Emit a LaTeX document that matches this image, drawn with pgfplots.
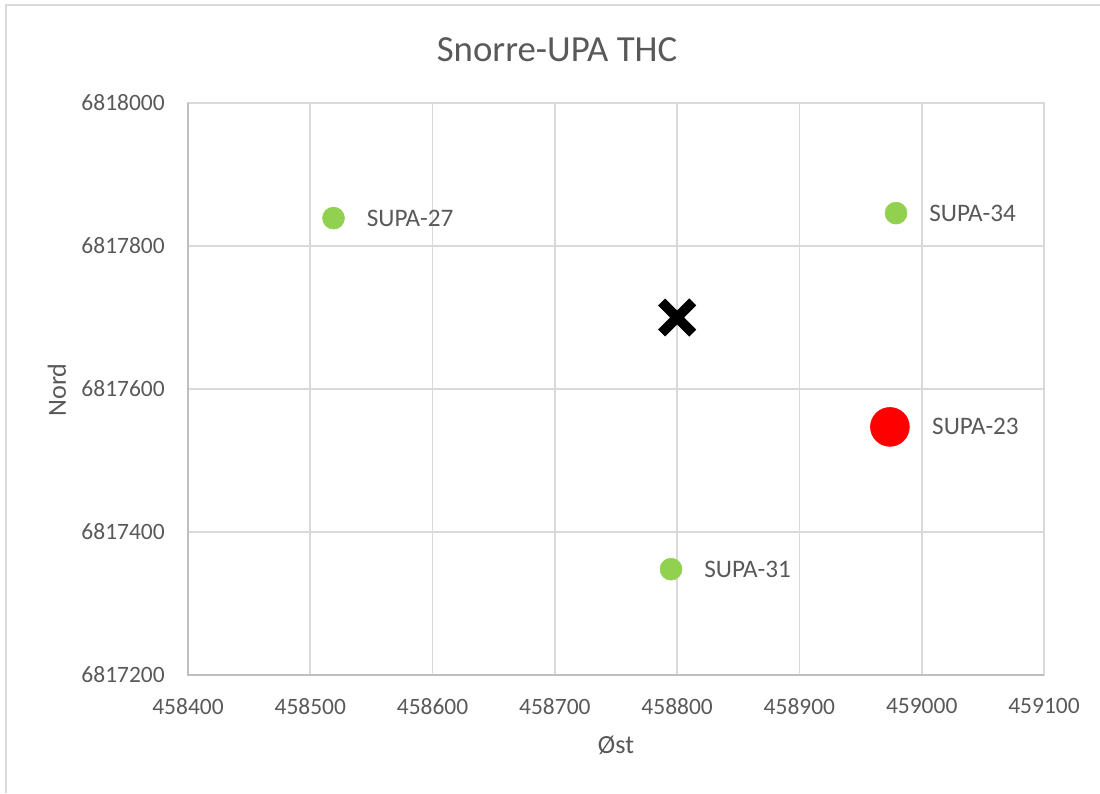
\documentclass[border=0pt]{standalone}
\usepackage{pgfplots}
\pgfplotsset{compat=1.18}
\usepackage{fontspec}
\setmainfont{Carlito}
\definecolor{gridc}{HTML}{D9D9D9}
\definecolor{axc}{HTML}{BFBFBF}
\definecolor{txt}{HTML}{595959}
\definecolor{grn}{HTML}{92D050}
\begin{document}
\begin{tikzpicture}
\path[use as bounding box] (0,0) rectangle (825pt,594.75pt);
\draw[gridc, line width=1.5pt] (4.5pt,0) -- (4.5pt,591pt) -- (825pt,591pt);
\node[text=txt, font=\fontsize{27.6}{30}\selectfont] at (417.75pt,557.25pt) {Snorre-UPA THC};
\node[text=txt, font=\fontsize{19.6}{22}\selectfont] at (462pt,36pt) {Øst};
\node[text=txt, font=\fontsize{19.6}{22}\selectfont, rotate=90] at (42.75pt,302.25pt) {Nord};
\begin{axis}[at={(141pt,88.5pt)}, anchor=south west, scale only axis,
  width=642pt, height=429pt,
  xmin=458400, xmax=459100, ymin=6817200, ymax=6818000,
  xtick={458400,458500,458600,458700,458800,458900,459000,459100},
  ytick={6817200,6817400,6817600,6817800,6818000},
  grid=major, grid style={gridc, line width=1.2pt},
  axis line style={gridc, line width=1.2pt},
  major tick style={draw=none},
  scaled ticks=false,
  xticklabel={\pgfmathprintnumber[fixed, precision=0, 1000 sep={}, assume math mode=true]{\tick}},
  yticklabel={\pgfmathprintnumber[fixed, precision=0, 1000 sep={}, assume math mode=true]{\tick}},
  ticklabel style={font=\fontsize{17.6}{20}\selectfont, text=txt, inner sep=0pt},
  xticklabel style={anchor=north, yshift=-17.6pt},
  yticklabel style={anchor=east, xshift=-17.25pt},
  clip=false,
]
\draw[axc, line width=1.2pt] (rel axis cs:0,1) -- (rel axis cs:0,0) -- (rel axis cs:1,0);
\addplot[only marks, mark=*, mark size=8.25pt, color=grn,
  nodes near coords, point meta=explicit symbolic,
  nodes near coords style={anchor=west, inner sep=0pt, xshift=24.75pt, text=txt, font=\fontsize{18.9}{21}\selectfont}]
  table[meta=label] {
x y label
458519 6817839 SUPA-27
458979 6817846 SUPA-34
458795 6817348 SUPA-31
};
\addplot[only marks, mark=*, mark size=14.6pt, color=red,
  nodes near coords, point meta=explicit symbolic,
  nodes near coords style={anchor=west, inner sep=0pt, xshift=31.5pt, text=txt, font=\fontsize{18.9}{21}\selectfont}]
  table[meta=label] {
x y label
458974 6817547 SUPA-23
};
\addplot[only marks, mark=x, mark size=16.5pt, mark options={line width=7.5pt}, color=black]
  coordinates {(458800,6817700)};
\end{axis}
\end{tikzpicture}
\end{document}
